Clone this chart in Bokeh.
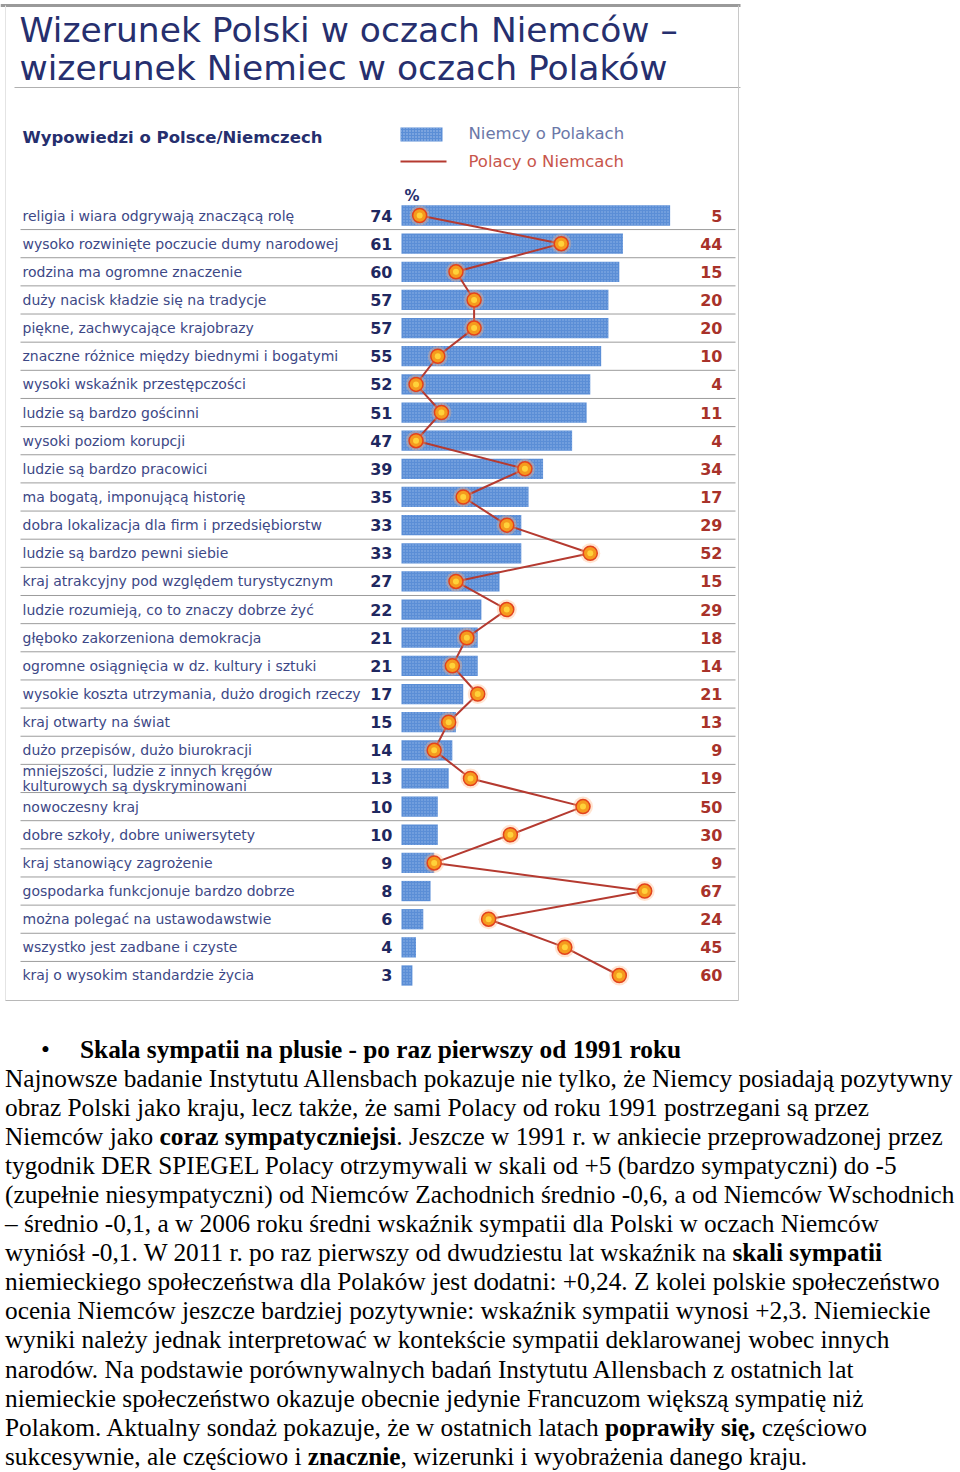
from bokeh.plotting import figure
from bokeh.models import Range1d, Div
from bokeh.layouts import column
from bokeh.core.properties import value
from bokeh.embed import file_html
from bokeh.resources import INLINE

# ---------------- data ----------------
labels = [
    "religia i wiara odgrywają znaczącą rolę",
    "wysoko rozwinięte poczucie dumy narodowej",
    "rodzina ma ogromne znaczenie",
    "duży nacisk kładzie się na tradycje",
    "piękne, zachwycające krajobrazy",
    "znaczne różnice między biednymi i bogatymi",
    "wysoki wskaźnik przestępczości",
    "ludzie są bardzo gościnni",
    "wysoki poziom korupcji",
    "ludzie są bardzo pracowici",
    "ma bogatą, imponującą historię",
    "dobra lokalizacja dla firm i przedsiębiorstw",
    "ludzie są bardzo pewni siebie",
    "kraj atrakcyjny pod względem turystycznym",
    "ludzie rozumieją, co to znaczy dobrze żyć",
    "głęboko zakorzeniona demokracja",
    "ogromne osiągnięcia w dz. kultury i sztuki",
    "wysokie koszta utrzymania, dużo drogich rzeczy",
    "kraj otwarty na świat",
    "dużo przepisów, dużo biurokracji",
    "mniejszości, ludzie z innych kręgów\nkulturowych są dyskryminowani",
    "nowoczesny kraj",
    "dobre szkoły, dobre uniwersytety",
    "kraj stanowiący zagrożenie",
    "gospodarka funkcjonuje bardzo dobrze",
    "można polegać na ustawodawstwie",
    "wszystko jest zadbane i czyste",
    "kraj o wysokim standardzie życia",
]
niemcy_o_polakach = [74, 61, 60, 57, 57, 55, 52, 51, 47, 39, 35, 33, 33, 27,
                     22, 21, 21, 17, 15, 14, 13, 10, 10, 9, 8, 6, 4, 3]
polacy_o_niemcach = [5, 44, 15, 20, 20, 10, 4, 11, 4, 34, 17, 29, 52, 15,
                     29, 18, 14, 21, 13, 9, 19, 50, 30, 9, 67, 24, 45, 60]
title_lines = ["Wizerunek Polski w oczach Niemców –",
               "wizerunek Niemiec w oczach Polaków"]
subtitle = "Wypowiedzi o Polsce/Niemczech"
legend_labels = ["Niemcy o Polakach", "Polacy o Niemcach"]
unit_label = "%"

rows = list(range(len(labels)))

# ---------------- geometry ----------------
W, H = 960, 1035
PX_PER_UNIT = 3.63
ZERO_PX = 401.0          # pixel of value 0
ROW_PX = 28.148
ROW0_PX = 215.0          # pixel of first row centre


def fx(ref_x):
    return (ref_x - ZERO_PX) / PX_PER_UNIT


def fy(ref_y):
    return (ref_y - ROW0_PX) / ROW_PX


p = figure(width=W, height=H, output_backend="svg", toolbar_location=None,
           x_range=Range1d(-ZERO_PX / PX_PER_UNIT, (W - ZERO_PX) / PX_PER_UNIT),
           y_range=Range1d((H - ROW0_PX) / ROW_PX, -ROW0_PX / ROW_PX),
           x_axis_type=None, y_axis_type=None, min_border=0)
p.outline_line_color = None
p.xgrid.visible = False
p.ygrid.visible = False
p.background_fill_color = "white"

NAVY = "#262f6e"
LABEL = "#3d4886"
RED_NUM = "#a8322a"

# frame lines
p.segment(x0=[fx(0)], x1=[fx(740)], y0=[fy(5)], y1=[fy(5)], line_color="#9a9a9a", line_width=3)
p.segment(x0=[fx(14)], x1=[fx(740)], y0=[fy(87)], y1=[fy(87)], line_color="#b0b0b0", line_width=1)
p.segment(x0=[fx(738)], x1=[fx(738)], y0=[fy(5)], y1=[fy(1000)], line_color="#c8c8c8", line_width=1)
p.segment(x0=[fx(5)], x1=[fx(5)], y0=[fy(5)], y1=[fy(1000)], line_color="#e4e4e4", line_width=1)
p.segment(x0=[fx(5)], x1=[fx(738)], y0=[fy(1000)], y1=[fy(1000)], line_color="#b8b8b8", line_width=1)

# title
p.text(x=[fx(19), fx(19)], y=[fy(29), fy(67)], text=title_lines,
       text_font=value("DejaVu Sans"), text_font_size="34.5px",
       text_color=NAVY, text_baseline="middle", text_align="left")
p.text(x=[fx(22)], y=[fy(137)], text=[subtitle],
       text_font=value("DejaVu Sans"), text_font_size="16.5px", text_font_style="bold",
       text_color=NAVY, text_baseline="middle", text_align="left")

# legend
p.quad(left=[fx(400)], right=[fx(442)], top=[fy(127)], bottom=[fy(141)],
       fill_color="#5b8ed6", line_color=None,
       hatch_pattern="dot", hatch_color="#a9c6ee", hatch_scale=3, hatch_weight=1)
p.segment(x0=[fx(400)], x1=[fx(446)], y0=[fy(161)], y1=[fy(161)],
          line_color="#b53a30", line_width=2)
p.text(x=[fx(468), fx(468)], y=[fy(133), fy(161)], text=legend_labels,
       text_font=value("DejaVu Sans"), text_font_size="16.5px",
       text_color=["#6b78a8", "#c8564c"], text_baseline="middle", text_align="left")
p.text(x=[fx(404)], y=[fy(195)], text=[unit_label],
       text_font=value("DejaVu Sans"), text_font_size="15px", text_font_style="bold",
       text_color=NAVY, text_baseline="middle", text_align="left")

# separators
sep_y = [r + 0.5 for r in rows[:-1]]
p.segment(x0=[fx(20)] * len(sep_y), x1=[fx(735)] * len(sep_y), y0=sep_y, y1=sep_y,
          line_color="#9c9c9c", line_width=1)

# bars
p.hbar(y=rows, left=0, right=niemcy_o_polakach, height=0.72,
       fill_color="#5b8ed6", line_color=None,
       hatch_pattern="dot", hatch_color="#a9c6ee", hatch_scale=3, hatch_weight=1, hatch_alpha=0.7)

# line + markers
p.line(x=polacy_o_niemcach, y=rows, line_color="#b53a30", line_width=2)
p.scatter(x=polacy_o_niemcach, y=rows, size=20, fill_color="#ffb27a", fill_alpha=0.35, line_color=None)
p.scatter(x=polacy_o_niemcach, y=rows, size=14, fill_color="#f59a1e",
          line_color="#e3421c", line_width=1.5)
p.scatter(x=polacy_o_niemcach, y=rows, size=6, fill_color="#ffd23a", line_color=None)

# row labels
p.text(x=[fx(22)] * len(rows), y=rows, text=labels,
       text_font=value("DejaVu Sans"), text_font_size="14px", text_line_height=0.9,
       text_color=LABEL, text_baseline="middle", text_align="left")
p.text(x=[fx(392)] * len(rows), y=rows, text=[str(v) for v in niemcy_o_polakach],
       text_font=value("DejaVu Sans"), text_font_size="16px", text_font_style="bold",
       text_color="#1f2860", text_baseline="middle", text_align="right")
p.text(x=[fx(722)] * len(rows), y=rows, text=[str(v) for v in polacy_o_niemcach],
       text_font=value("DejaVu Sans"), text_font_size="16px", text_font_style="bold",
       text_color=RED_NUM, text_baseline="middle", text_align="right")

# ---------------- paragraph ----------------
para_lines = [
    "Najnowsze badanie Instytutu Allensbach pokazuje nie tylko, że Niemcy posiadają pozytywny",
    "obraz Polski jako kraju, lecz także, że sami Polacy od roku 1991 postrzegani są przez",
    "Niemców jako <b>coraz sympatyczniejsi</b>. Jeszcze w 1991 r. w ankiecie przeprowadzonej przez",
    "tygodnik DER SPIEGEL Polacy otrzymywali w skali od +5 (bardzo sympatyczni) do -5",
    "(zupełnie niesympatyczni) od Niemców Zachodnich średnio -0,6, a od Niemców Wschodnich",
    "– średnio -0,1, a w 2006 roku średni wskaźnik sympatii dla Polski w oczach Niemców",
    "wyniósł -0,1. W 2011 r. po raz pierwszy od dwudziestu lat wskaźnik na <b>skali sympatii</b>",
    "niemieckiego społeczeństwa dla Polaków jest dodatni: +0,24. Z kolei polskie społeczeństwo",
    "ocenia Niemców jeszcze bardziej pozytywnie: wskaźnik sympatii wynosi +2,3. Niemieckie",
    "wyniki należy jednak interpretować w kontekście sympatii deklarowanej wobec innych",
    "narodów. Na podstawie porównywalnych badań Instytutu Allensbach z ostatnich lat",
    "niemieckie społeczeństwo okazuje obecnie jedynie Francuzom większą sympatię niż",
    "Polakom. Aktualny sondaż pokazuje, że w ostatnich latach <b>poprawiły się,</b> częściowo",
    "sukcesywnie, ale częściowo i <b>znacznie</b>, wizerunki i wyobrażenia danego kraju.",
]
bullet_title = "Skala sympatii na plusie - po raz pierwszy od 1991 roku"

html = (
    '<div style="font-family:\'Liberation Serif\',serif;font-size:25.3px;line-height:29.05px;'
    'color:#000;white-space:nowrap;margin-left:5px;">'
    '<div><span style="display:inline-block;width:75px;text-align:left;padding-left:36px;box-sizing:border-box;">&#8226;</span>'
    '<b>' + bullet_title + '</b></div>'
    + "".join("<div>" + ln + "</div>" for ln in para_lines)
    + "</div>"
)
div = Div(text=html, width=W, height=436, margin=(0, 0, 0, 0))

layout = column(p, div, spacing=0)
open("out.html", "w").write(file_html(layout, INLINE))
